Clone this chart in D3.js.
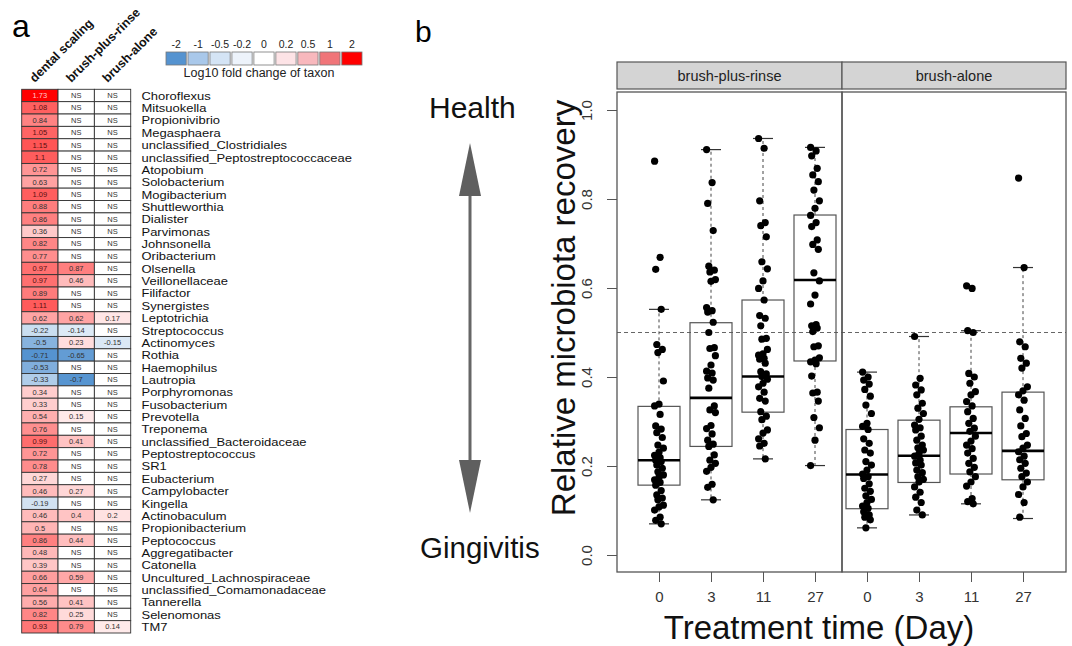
<!DOCTYPE html>
<html>
<head>
<meta charset="utf-8">
<script src="https://cdn.jsdelivr.net/npm/d3@7"></script>
<style>
body{margin:0;background:#fff;}
svg{font-family:"Liberation Sans",Arial,sans-serif;}
</style>
</head>
<body>
<svg id="fig" width="1072" height="646"></svg>
<script>
// ---- panel a data ----
const taxa = ["Choroflexus","Mitsuokella","Propionivibrio","Megasphaera","unclassified_Clostridiales",
"unclassified_Peptostreptococcaceae","Atopobium","Solobacterium","Mogibacterium","Shuttleworthia",
"Dialister","Parvimonas","Johnsonella","Oribacterium","Olsenella","Veillonellaceae","Filifactor",
"Synergistes","Leptotrichia","Streptococcus","Actinomyces","Rothia","Haemophilus","Lautropia",
"Porphyromonas","Fusobacterium","Prevotella","Treponema","unclassified_Bacteroidaceae",
"Peptostreptococcus","SR1","Eubacterium","Campylobacter","Kingella","Actinobaculum",
"Propionibacterium","Peptococcus","Aggregatibacter","Catonella","Uncultured_Lachnospiraceae",
"unclassified_Comamonadaceae","Tannerella","Selenomonas","TM7"];
const treatments = ["dental scaling","brush-plus-rinse","brush-alone"];
const dentalScaling = [1.73,1.08,0.84,1.05,1.15,1.1,0.72,0.63,1.09,0.88,0.86,0.36,0.82,0.77,0.97,0.97,0.89,1.11,0.62,-0.22,-0.5,-0.71,-0.53,-0.33,0.34,0.33,0.54,0.76,0.99,0.72,0.78,0.27,0.46,-0.19,0.46,0.5,0.86,0.48,0.39,0.66,0.64,0.56,0.82,0.93];
const brushPlusRinse = [null,null,null,null,null,null,null,null,null,null,null,null,null,null,0.87,0.46,null,null,0.62,-0.14,0.23,-0.65,null,-0.7,null,null,0.15,null,0.41,null,null,null,0.27,null,0.4,null,0.44,null,null,0.59,null,0.41,0.25,0.79];
const brushAlone = [null,null,null,null,null,null,null,null,null,null,null,null,null,null,null,null,null,null,0.17,null,-0.15,null,null,null,null,null,null,null,null,null,null,null,null,null,0.2,null,null,null,null,null,null,null,null,0.14];
const legendBreaks = [-2,-1,-0.5,-0.2,0,0.2,0.5,1,2];
const legendColors = ["#5593d0","#a9c8ea","#d4e4f5","#edf3fb","#ffffff","#fde3e6","#f8b8bd","#f07579","#ff0000"];

// ---- panel b data ----
const days = ["0","3","11","27"];
const rinsePoints = [
 [0.885,0.669,0.642,0.552,0.473,0.462,0.455,0.391,0.339,0.335,0.316,0.290,0.283,0.275,0.264,0.247,0.240,0.231,0.224,0.219,0.213,0.210,0.202,0.195,0.187,0.180,0.175,0.169,0.163,0.157,0.145,0.135,0.128,0.124,0.112,0.108,0.101,0.085,0.078,0.070],
 [0.911,0.837,0.790,0.729,0.649,0.640,0.636,0.619,0.615,0.556,0.549,0.546,0.523,0.500,0.466,0.464,0.448,0.427,0.413,0.409,0.398,0.393,0.375,0.335,0.326,0.320,0.291,0.284,0.272,0.258,0.249,0.244,0.225,0.213,0.206,0.197,0.188,0.159,0.152,0.124],
 [0.936,0.914,0.796,0.747,0.740,0.715,0.659,0.643,0.616,0.599,0.573,0.538,0.532,0.515,0.487,0.485,0.462,0.452,0.449,0.442,0.440,0.431,0.412,0.407,0.401,0.395,0.386,0.378,0.366,0.352,0.346,0.322,0.312,0.304,0.281,0.274,0.261,0.251,0.245,0.216],
 [0.916,0.908,0.897,0.869,0.854,0.839,0.820,0.796,0.779,0.763,0.747,0.738,0.708,0.698,0.687,0.634,0.616,0.584,0.564,0.518,0.515,0.510,0.502,0.470,0.468,0.443,0.438,0.434,0.430,0.402,0.366,0.364,0.346,0.309,0.286,0.258,0.201]
];
const alonePoints = [
 [0.411,0.400,0.393,0.384,0.372,0.357,0.337,0.318,0.296,0.289,0.282,0.261,0.251,0.236,0.229,0.210,0.202,0.191,0.182,0.176,0.172,0.160,0.150,0.143,0.133,0.125,0.118,0.110,0.105,0.097,0.090,0.085,0.079,0.061],
 [0.491,0.397,0.382,0.371,0.360,0.341,0.330,0.318,0.305,0.292,0.286,0.281,0.267,0.258,0.247,0.241,0.236,0.228,0.222,0.213,0.207,0.202,0.191,0.185,0.176,0.170,0.164,0.153,0.141,0.130,0.118,0.101,0.090],
 [0.605,0.599,0.504,0.500,0.408,0.400,0.386,0.367,0.360,0.345,0.335,0.322,0.307,0.296,0.285,0.278,0.267,0.256,0.247,0.239,0.229,0.217,0.206,0.197,0.187,0.176,0.164,0.155,0.127,0.120,0.115],
 [0.847,0.646,0.479,0.468,0.442,0.431,0.420,0.378,0.369,0.360,0.348,0.326,0.307,0.290,0.273,0.266,0.247,0.240,0.232,0.222,0.214,0.206,0.195,0.184,0.176,0.164,0.153,0.136,0.118,0.085]
];
// box statistics
const rinseLow = [0.070,0.124,0.216,0.201], rinseQ1 = [0.157,0.244,0.321,0.436], rinseMedian = [0.213,0.353,0.401,0.618], rinseQ3 = [0.334,0.522,0.573,0.764], rinseHigh = [0.552,0.911,0.936,0.916];
const aloneLow = [0.061,0.090,0.115,0.082], aloneQ1 = [0.104,0.163,0.182,0.169], aloneMedian = [0.181,0.223,0.274,0.234], aloneQ3 = [0.282,0.303,0.333,0.366], aloneHigh = [0.411,0.491,0.504,0.646];
const yTicks = [0,0.2,0.4,0.6,0.8,1.0];
const threshold = 0.5;

(function(){

const fig = d3.select("#fig");

// ================= panel a =================
fig.append("text").attr("x",12).attr("y",37).attr("font-size",32).text("a");

// cells: white at 0, full blue / full red at the most extreme values
const allVals = dentalScaling.concat(brushPlusRinse,brushAlone).filter(v=>v!==null);
const color = d3.scaleLinear().domain([d3.min(allVals),0,d3.max(allVals)])
  .range(["#5593d0","#ffffff","#ff0000"]).clamp(true);

// legend
const lx = d3.scaleBand().domain(legendBreaks).range([166,362]).paddingInner(0.08);
const leg = fig.append("g");
leg.selectAll("rect").data(legendBreaks).enter().append("rect")
  .attr("x",d=>lx(d)).attr("y",52).attr("width",lx.bandwidth()).attr("height",13)
  .attr("fill",(d,i)=>legendColors[i]).attr("stroke","#777").attr("stroke-width",0.8);
leg.selectAll("text.lt").data(legendBreaks).enter().append("text").attr("class","lt")
  .attr("x",d=>lx(d)+lx.bandwidth()/2).attr("y",48).attr("font-size",10.5)
  .attr("text-anchor","middle").attr("fill","#222").text(d=>d);
leg.append("text").attr("x",259).attr("y",77).attr("font-size",12.5)
  .attr("text-anchor","middle").attr("fill","#222").text("Log10 fold change of taxon");

// heatmap
const hx = d3.scaleBand().domain(treatments).range([21.7,130.7]);
const hy = d3.scaleBand().domain(taxa).range([89.3,633]);
const columns = [dentalScaling,brushPlusRinse,brushAlone];
const cells = [];
treatments.forEach((t,j)=>{
  taxa.forEach((tx,i)=>cells.push({t:t,taxon:tx,v:columns[j][i]}));
});
const hm = fig.append("g");
hm.selectAll("rect").data(cells).enter().append("rect")
  .attr("x",d=>hx(d.t)).attr("y",d=>hy(d.taxon))
  .attr("width",hx.bandwidth()).attr("height",hy.bandwidth())
  .attr("fill",d=>d.v===null?"#fff":color(d.v))
  .attr("stroke","#333").attr("stroke-width",0.9);
hm.selectAll("text").data(cells).enter().append("text")
  .attr("x",d=>hx(d.t)+hx.bandwidth()/2).attr("y",d=>hy(d.taxon)+hy.bandwidth()/2)
  .attr("dy","0.35em").attr("text-anchor","middle").attr("font-size",7.5)
  .attr("fill",d=>d.v===null?"#333":d.v>1.5?"#ffc8c8":d.v>0.9?"#5a1010":"#333")
  .text(d=>d.v===null?"NS":d.v);

// column headers
fig.append("g").selectAll("text").data(treatments).enter().append("text")
  .attr("transform",d=>`translate(${hx(d)+hx.bandwidth()/2-5},83) rotate(-45)`)
  .attr("font-size",12.5).attr("font-weight","bold").attr("fill","#111").text(d=>d);

// taxon labels (slightly stretched to match the reference's wide glyphs)
fig.append("g").selectAll("text").data(taxa).enter().append("text")
  .attr("transform",d=>`translate(141.5,${hy(d)+hy.bandwidth()/2}) scale(1.1,1)`)
  .attr("dy","0.36em").attr("font-size",11.8).attr("fill","#111").text(d=>d);

// ================= panel b =================
fig.append("text").attr("x",415).attr("y",42).attr("font-size",30).text("b");

const plotTop = 92, plotBottom = 572;
const y = d3.scaleLinear().domain([0,1]).range([555,110]);
const panels = [
  {name:"brush-plus-rinse",x0:617,x1:842,range:[659,815],pts:rinsePoints,lo:rinseLow,q1:rinseQ1,med:rinseMedian,q3:rinseQ3,hi:rinseHigh},
  {name:"brush-alone",x0:842,x1:1066,range:[867,1023],pts:alonePoints,lo:aloneLow,q1:aloneQ1,med:aloneMedian,q3:aloneQ3,hi:aloneHigh}
];

// threshold line
fig.append("line").attr("x1",617).attr("x2",1066).attr("y1",y(threshold)).attr("y2",y(threshold))
  .attr("stroke","#666").attr("stroke-width",1).attr("stroke-dasharray","4,3");

panels.forEach((p,pi)=>{
  const x = d3.scalePoint().domain(days).range(p.range);
  const g = fig.append("g");

  // strip
  g.append("rect").attr("x",p.x0).attr("y",62).attr("width",p.x1-p.x0).attr("height",27)
    .attr("fill","#d4d4d4").attr("stroke","#555").attr("stroke-width",1.2);
  g.append("text").attr("x",(p.x0+p.x1)/2).attr("y",81).attr("text-anchor","middle")
    .attr("font-size",14.5).attr("fill","#222").text(p.name);

  // panel border
  g.append("rect").attr("x",p.x0).attr("y",plotTop).attr("width",p.x1-p.x0).attr("height",plotBottom-plotTop)
    .attr("fill","none").attr("stroke","#555").attr("stroke-width",1.3);

  const bw = 42, cap = 10;
  days.forEach((d,i)=>{
    const cx = x(d);
    // whiskers
    g.append("line").attr("x1",cx).attr("x2",cx).attr("y1",y(p.q3[i])).attr("y2",y(p.hi[i]))
      .attr("stroke","#444").attr("stroke-width",1).attr("stroke-dasharray","3,3");
    g.append("line").attr("x1",cx).attr("x2",cx).attr("y1",y(p.q1[i])).attr("y2",y(p.lo[i]))
      .attr("stroke","#444").attr("stroke-width",1).attr("stroke-dasharray","3,3");
    [p.hi[i],p.lo[i]].forEach(v=>{
      g.append("line").attr("x1",cx-cap).attr("x2",cx+cap).attr("y1",y(v)).attr("y2",y(v))
        .attr("stroke","#333").attr("stroke-width",1.2);
    });
    // box
    g.append("rect").attr("x",cx-bw/2).attr("y",y(p.q3[i])).attr("width",bw)
      .attr("height",y(p.q1[i])-y(p.q3[i])).attr("fill","none")
      .attr("stroke","#555").attr("stroke-width",1.2);
    g.append("line").attr("x1",cx-bw/2).attr("x2",cx+bw/2).attr("y1",y(p.med[i])).attr("y2",y(p.med[i]))
      .attr("stroke","#000").attr("stroke-width",2.6);
    // points
    g.append("g").selectAll("circle").data(p.pts[i]).enter().append("circle")
      .attr("cx",(v,k)=>cx+((k*5)%9-4)*1.1)
      .attr("cy",v=>y(v)).attr("r",3.6).attr("fill","#000");
  });

  // x axis
  const xa = g.append("g").attr("transform",`translate(0,${plotBottom})`)
    .call(d3.axisBottom(x).tickSize(10).tickPadding(9));
  xa.select(".domain").remove();
  xa.selectAll("line").attr("stroke","#555");
  xa.selectAll("text").attr("font-size",15).attr("fill","#333");
  xa.attr("font-family",null);

  if(pi===0){
    const ya = g.append("g").attr("transform",`translate(${p.x0},0)`)
      .call(d3.axisLeft(y).tickValues(yTicks).tickFormat(d3.format(".1f")).tickSize(10));
    ya.select(".domain").remove();
    ya.selectAll("line").attr("stroke","#555");
    ya.selectAll("text").attr("x",null).attr("dy",null)
      .attr("transform","translate(-25,0) rotate(-90)").attr("text-anchor","middle")
      .attr("font-size",15).attr("fill","#333");
    ya.attr("font-family",null);
  }
});

// axis titles
fig.append("text").attr("transform","translate(575,308) rotate(-90)").attr("text-anchor","middle")
  .attr("font-size",33).attr("fill","#111").text("Relative microbiota recovery");
fig.append("text").attr("x",819).attr("y",639).attr("text-anchor","middle")
  .attr("font-size",33).attr("fill","#111").text("Treatment time (Day)");

// health / gingivitis arrow
const ann = fig.append("g");
ann.append("text").attr("x",429).attr("y",118).attr("font-size",30).attr("fill","#111").text("Health");
ann.append("text").attr("x",420).attr("y",558).attr("font-size",29.5).attr("fill","#111").text("Gingivitis");
ann.append("line").attr("x1",470).attr("x2",470).attr("y1",190).attr("y2",466)
  .attr("stroke","#666").attr("stroke-width",3);
ann.append("path").attr("d","M470,143 L481,196 L459,196 Z").attr("fill","#5f5f5f");
ann.append("path").attr("d","M470,513 L481,460 L459,460 Z").attr("fill","#5f5f5f");

})();
</script>
</body>
</html>
